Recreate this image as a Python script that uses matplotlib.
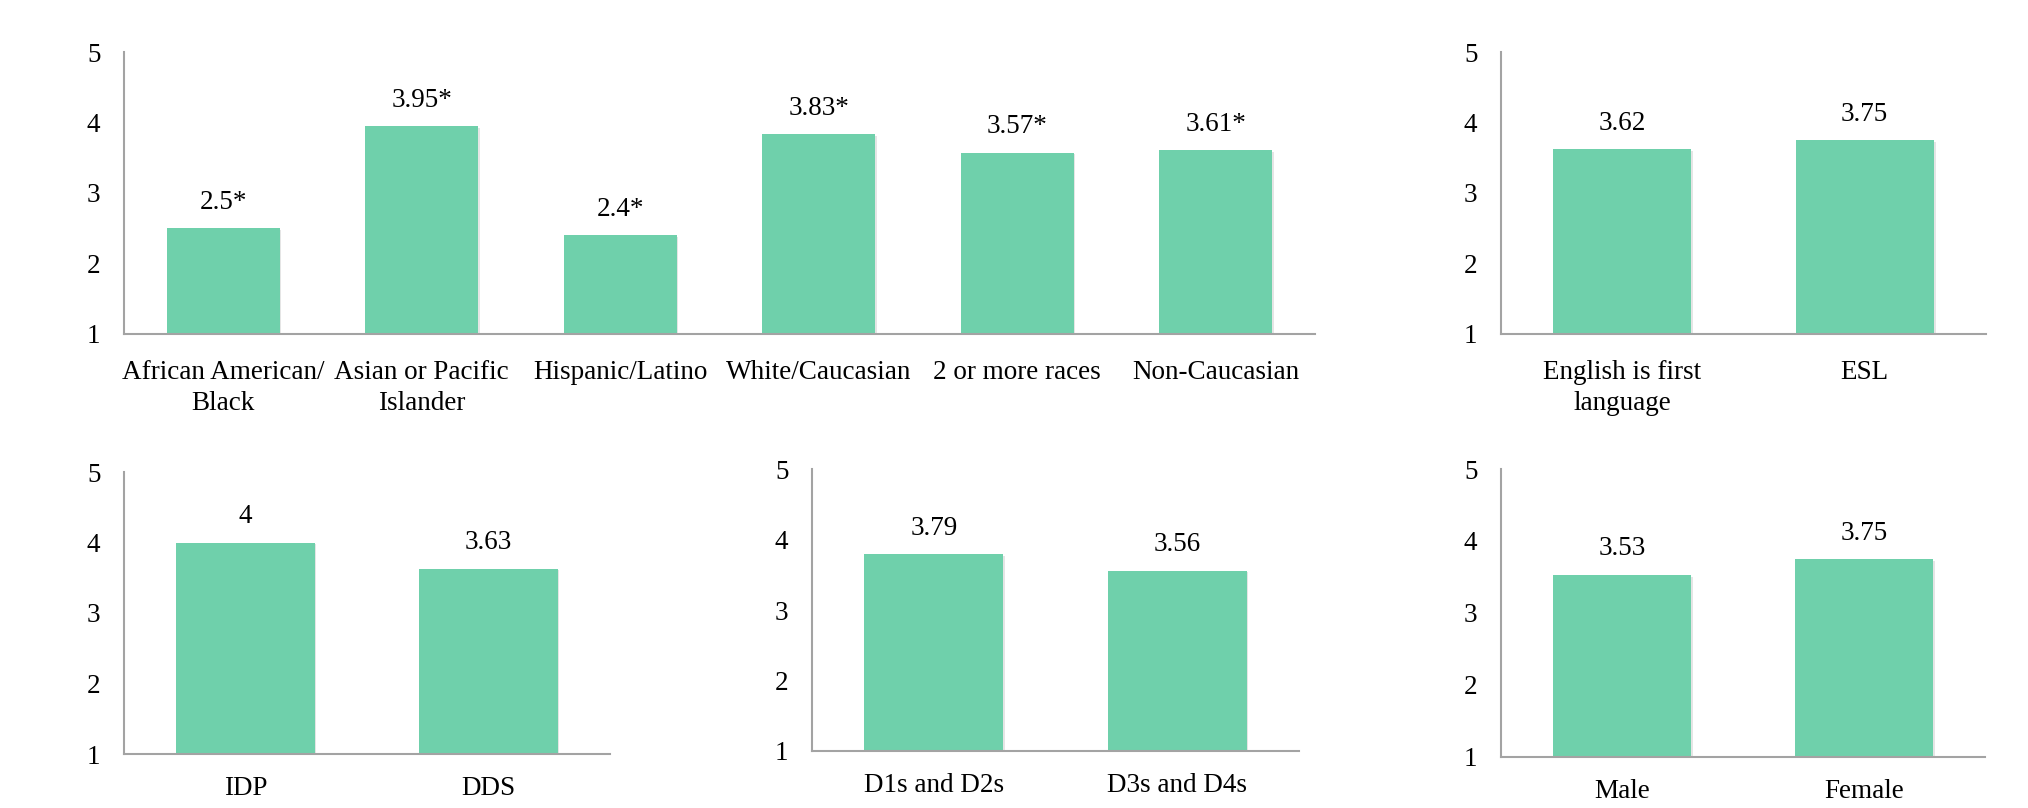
import matplotlib
matplotlib.use("Agg")
import matplotlib.pyplot as plt
import matplotlib.patheffects as pe

# Mean ratings by student group
race_labels = ["African American/\nBlack", "Asian or Pacific\nIslander", "Hispanic/Latino",
               "White/Caucasian", "2 or more races", "Non-Caucasian"]
race_values = [2.5, 3.95, 2.4, 3.83, 3.57, 3.61]

language_labels = ["English is first\nlanguage", "ESL"]
language_values = [3.62, 3.75]

program_labels = ["IDP", "DDS"]
program_values = [4, 3.63]

year_labels = ["D1s and D2s", "D3s and D4s"]
year_values = [3.79, 3.56]

gender_labels = ["Male", "Female"]
gender_values = [3.53, 3.75]

y_ticks = [1, 2, 3, 4, 5]

BAR_COLOR = "#6fd0ab"
SPINE_COLOR = "#a3a3a3"
FONT = "Liberation Serif"
FS = 19.5

W, H = 2028, 808
plt.rcParams["font.family"] = [FONT, "DejaVu Serif"]

fig = plt.figure(figsize=(W / 100, H / 100), dpi=100)


def add_panel(left, top, right, bottom, labels, values, star, label_pad):
    ax = fig.add_axes([left / W, 1 - bottom / H, (right - left) / W, (bottom - top) / H])
    x = list(range(len(values)))
    bars = ax.bar(x, values, width=0.57, color=BAR_COLOR, zorder=2)
    for b in bars:
        b.set_path_effects([pe.SimplePatchShadow(offset=(1.2, -1.2), shadow_rgbFace="black", alpha=0.10),
                            pe.Normal()])
    ax.set_xlim(-0.5, len(values) - 0.5)
    ax.set_ylim(1, 5)
    ax.set_yticks(y_ticks)
    ax.set_xticks(x)
    ax.set_xticklabels(labels, fontsize=FS, linespacing=1.32)
    ax.tick_params(axis="both", length=0, labelsize=FS)
    ax.tick_params(axis="y", pad=17)
    ax.tick_params(axis="x", pad=label_pad)
    for s in ("top", "right"):
        ax.spines[s].set_visible(False)
    for s in ("left", "bottom"):
        ax.spines[s].set_color(SPINE_COLOR)
        ax.spines[s].set_linewidth(1.5)
        ax.spines[s].set_zorder(3)
    for xi, v in zip(x, values):
        txt = f"{v:g}" + ("*" if star else "")
        ax.annotate(txt, xy=(xi, v), xytext=(0, 14), textcoords="offset points",
                    ha="center", va="baseline", fontsize=FS)
    return ax


add_panel(124, 52, 1315, 334, race_labels, race_values, True, 18.5)
add_panel(1501, 52, 1986, 334, language_labels, language_values, False, 18.5)
add_panel(124, 472, 610, 754, program_labels, program_values, False, 15.5)
add_panel(812, 469, 1299, 751, year_labels, year_values, False, 15.5)
add_panel(1501, 469, 1985, 757, gender_labels, gender_values, False, 15.5)

fig.savefig("out.png", dpi=100, facecolor="white")
